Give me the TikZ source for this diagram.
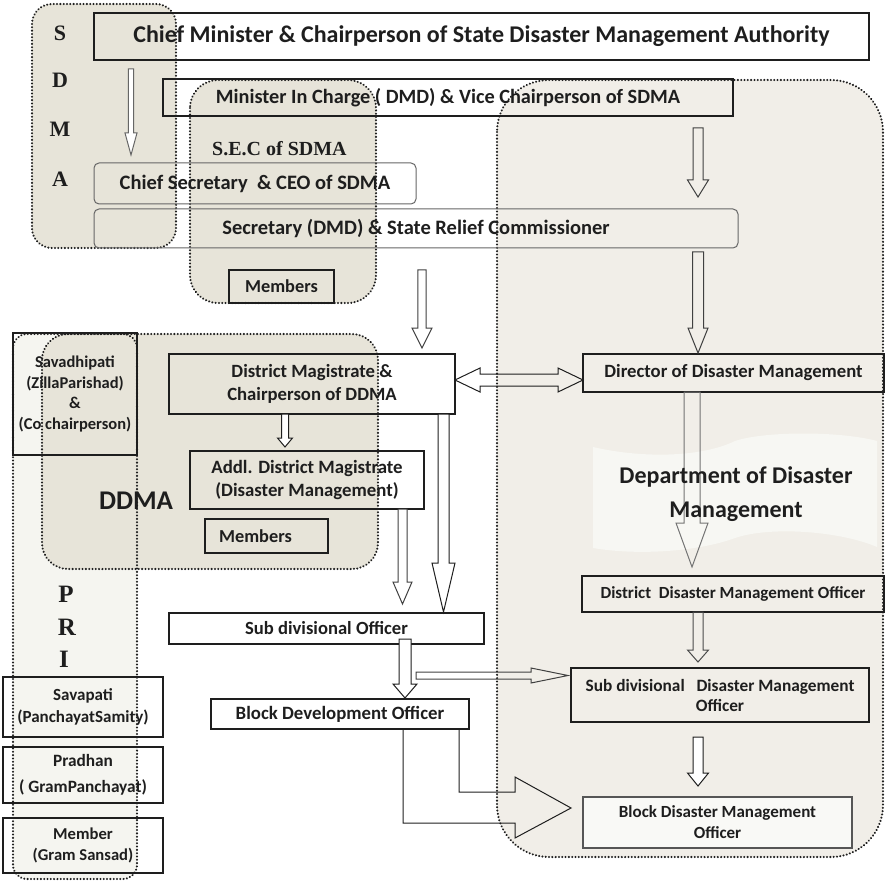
\documentclass[tikz,border=0pt]{standalone}
\usepackage{fontspec}
\setmainfont{Carlito}
\newfontfamily\serifface{Liberation Serif}
\usetikzlibrary{calc}

\definecolor{regionfill}{HTML}{E7E4D9}
\definecolor{deptfill}{HTML}{F1EEE8}
\definecolor{prifill}{HTML}{F5F5F0}
\definecolor{bannerfill}{HTML}{F7F7F3}
\definecolor{lightbox}{HTML}{F9F9F6}
\definecolor{ink}{HTML}{1E1E1E}

\tikzset{
  region/.style={draw=ink, line width=2.3pt, line cap=round, dash pattern=on 0.01pt off 3.3pt},
  heavybox/.style={draw=ink, line width=2.3pt, inner sep=0pt, outer sep=0pt, anchor=north west, align=center, text=ink},
  plainbox/.style={draw=ink, line width=1.4pt, inner sep=0pt, outer sep=0pt, anchor=north west, align=center, text=ink},
  softbox/.style={draw=black!60, line width=1pt, rounded corners=5pt, inner sep=0pt, outer sep=0pt, anchor=north west, align=center, text=ink},
  blockarrow/.style={draw=ink, line width=1pt, line join=miter},
  letter/.style={font=\serifface\bfseries\fontsize{22}{22}\selectfont, inner sep=0pt, anchor=base, text=ink},
  bigletter/.style={font=\serifface\bfseries\fontsize{25}{25}\selectfont, inner sep=0pt, anchor=base, text=ink},
}

% vertical hollow block arrow:
% #1 style, #2 x, #3 from anchor, #4 gap below it, #5 to anchor, #6 gap above it,
% #7 half shaft width, #8 half head width, #9 head length
\newcommand\vblock[9]{%
  \draw[#1] let \p1=(#3), \p2=(#5) in
    (#2pt-#7pt,\y1-#4pt) -- (#2pt+#7pt,\y1-#4pt) -- (#2pt+#7pt,\y2+#6pt+#9pt)
    -- (#2pt+#8pt,\y2+#6pt+#9pt) -- (#2pt,\y2+#6pt) -- (#2pt-#8pt,\y2+#6pt+#9pt)
    -- (#2pt-#7pt,\y2+#6pt+#9pt) -- cycle;}

\begin{document}
\begin{tikzpicture}[x=1pt,y=-1pt]
\useasboundingbox (0,0) rectangle (885,882);

% ---- shaded groupings ----
\fill[prifill, rounded corners=14pt] (13,334) rectangle (137,879);
\fill[regionfill, rounded corners=20pt] (32,4) rectangle (176,248);
\fill[regionfill, rounded corners=28pt] (190,80) rectangle (376,303);
\fill[regionfill, rounded corners=26pt] (42,334) rectangle (378,569);
\fill[deptfill, rounded corners=52pt] (497,80) rectangle (883,857);

% ribbon behind the department title
\fill[bannerfill] (593,447) .. controls (640,458) and (700,458) .. (735,441)
  .. controls (765,431) and (840,431) .. (877,441) -- (877,547)
  .. controls (840,531) and (770,526) .. (735,538)
  .. controls (700,551) and (640,556) .. (593,548) -- cycle;

\draw[region, rounded corners=14pt] (13,334) rectangle (137,879);
\draw[region, rounded corners=20pt] (32,4) rectangle (176,248);
\draw[region, rounded corners=28pt] (190,80) rectangle (376,303);
\draw[region, rounded corners=26pt] (42,334) rectangle (378,569);
\draw[region, rounded corners=52pt] (497,80) rectangle (883,857);

% ---- group labels ----
\node[letter] (lS) at (60,41) {S};
\node[letter] (lD) at (60,88) {D};
\node[letter] (lM) at (60,137) {M};
\node[letter] (lA) at (60,187) {A};
\node[anchor=base west, inner sep=0pt, text=ink, font=\serifface\bfseries\fontsize{20}{20}\selectfont] (sectitle) at (212,156) {S.E.C of SDMA};
\node[anchor=base, inner sep=0pt, text=ink, font=\bfseries\fontsize{27}{27}\selectfont] (ddmatitle) at (136,509) {DDMA};
\node[bigletter] (lP) at (66,602) {P};
\node[bigletter] (lR) at (67,635) {R};
\node[bigletter] (lI) at (64,667) {I};

% ---- state level ----
\node[heavybox, minimum width=775pt, minimum height=47pt, font=\bfseries\fontsize{24}{28}\selectfont] (cm) at (94,13)
  {Chief Minister \& Chairperson of State Disaster Management Authority};
\node[heavybox, minimum width=570pt, minimum height=37pt, font=\bfseries\fontsize{20.3}{24}\selectfont] (mic) at (163,79)
  {Minister In Charge ( DMD) \& Vice Chairperson of SDMA};
\node[softbox, minimum width=322pt, minimum height=41pt, font=\bfseries\fontsize{20.5}{24}\selectfont] (cs) at (94,163)
  {Chief Secretary\ \ \& CEO of SDMA};
\node[softbox, minimum width=644pt, minimum height=39pt, font=\bfseries\fontsize{20.5}{24}\selectfont] (sec) at (94,209)
  {Secretary (DMD) \& State Relief Commissioner};
\node[plainbox, minimum width=105pt, minimum height=33pt, font=\bfseries\fontsize{18.3}{22}\selectfont] (mem1) at (229,270)
  {Members};

% ---- district level ----
\node[heavybox, minimum width=124pt, minimum height=122pt, font=\bfseries\fontsize{16.5}{20.5}\selectfont] (sav) at (13,333)
  {Savadhipati\\(ZillaParishad)\\\&\\(Co chairperson)};
\node[plainbox, minimum width=286pt, minimum height=60pt, font=\bfseries\fontsize{18.7}{23}\selectfont] (dm) at (169,354)
  {District Magistrate \&\\Chairperson of DDMA};
\node[plainbox, minimum width=234pt, minimum height=58pt, font=\bfseries\fontsize{18.8}{23}\selectfont] (adm) at (190,451)
  {Addl. District Magistrate\\(Disaster Management)};
\node[plainbox, minimum width=123pt, minimum height=34pt, font=\bfseries\fontsize{18.3}{22}\selectfont] (mem2) at (205,519)
  {Members\hspace*{22pt}};
\node[plainbox, minimum width=301pt, minimum height=38pt, font=\bfseries\fontsize{18.7}{22}\selectfont] (dir) at (583,354)
  {Director of Disaster Management};
\node[plainbox, minimum width=315pt, minimum height=31pt, font=\bfseries\fontsize{18.6}{22}\selectfont] (sdo) at (169,613)
  {Sub divisional Officer};
\node[plainbox, minimum width=258pt, minimum height=30pt, font=\bfseries\fontsize{18.8}{22}\selectfont] (bdo) at (211,699)
  {Block Development Officer};

% ---- department column ----
\node[plainbox, minimum width=302pt, minimum height=36pt, font=\bfseries\fontsize{17}{21}\selectfont] (ddmo) at (582,576)
  {District\ \ Disaster Management Officer};
\node[plainbox, minimum width=298pt, minimum height=54pt, font=\bfseries\fontsize{17.3}{20}\selectfont] (sddmo) at (571,668)
  {Sub divisional\ \ \ Disaster Management\\Officer};
\node[plainbox, fill=lightbox, draw=ink!75, minimum width=269pt, minimum height=51pt, font=\bfseries\fontsize{17}{21}\selectfont] (bdmo) at (583,797)
  {Block Disaster Management\\Officer};

% ---- panchayat bodies ----
\node[plainbox, minimum width=160pt, minimum height=60pt, font=\bfseries\fontsize{17}{22}\selectfont] (savapati) at (3,677)
  {Savapati\\(PanchayatSamity)};
\node[plainbox, minimum width=160pt, minimum height=56pt, font=\bfseries\fontsize{17.3}{26}\selectfont] (pradhan) at (3,747)
  {Pradhan\\( GramPanchayat)};
\node[plainbox, minimum width=160pt, minimum height=55pt, font=\bfseries\fontsize{16.6}{21}\selectfont] (member) at (3,818)
  {Member\\(Gram Sansad)};

% ---- block arrows ----
\vblock{blockarrow, draw=black!60, fill=white}{131}{cm.south}{9}{cs.north}{8}{2.7}{6}{22}
\vblock{blockarrow, draw=ink!85}{698}{mic.south}{12}{sec.north}{12}{5}{10.5}{17}
\vblock{blockarrow, draw=ink!85}{698}{sec.south}{4}{dir.north}{1}{5.5}{10}{25}
\vblock{blockarrow, draw=ink!85, fill=white}{422}{sec.south}{22}{dm.north}{6}{4.2}{10}{20}
\vblock{blockarrow, fill=white}{285}{dm.south}{0}{adm.north}{4}{3.5}{7.5}{9}
\vblock{blockarrow, draw=black!55}{692}{dir.south}{0}{ddmo.north}{9}{8}{16}{44}
\vblock{blockarrow, draw=ink!80}{698}{ddmo.south}{0}{sddmo.north}{6}{5}{10.5}{12}
\vblock{blockarrow, fill=white}{698}{sddmo.south}{15}{bdmo.north}{11}{5}{10.5}{13}
\vblock{blockarrow, fill=white}{443.5}{dm.south}{0}{sdo.north}{1}{5.5}{11.5}{49}
\vblock{blockarrow, draw=ink!85, fill=white}{402.5}{adm.south}{0}{sdo.north}{9}{4.5}{9.5}{22}
\vblock{blockarrow, fill=white}{405}{sdo.south}{-5}{bdo.north}{1}{6}{12}{14}

% two-way link between the district magistrate and the director
\draw[blockarrow] let \p1=(dm.east), \p2=(dir.west) in
  (\x1,-380pt) -- (\x1+25pt,-368pt) -- (\x1+25pt,-374pt) -- (\x2-25pt,-374pt)
  -- (\x2-25pt,-368pt) -- (\x2,-380pt) -- (\x2-25pt,-392pt) -- (\x2-25pt,-386pt)
  -- (\x1+25pt,-386pt) -- (\x1+25pt,-392pt) -- cycle;

% sub divisional officer to sub divisional disaster management officer
\coordinate (sdolink) at (416,675.5);
\draw[blockarrow, draw=ink!85] let \p1=(sdolink), \p2=(sddmo.west) in
  (\x1,\y1+3.5pt) -- (\x2-40pt,\y1+3.5pt) -- (\x2-40pt,\y1+7.5pt) -- (\x2-3pt,\y1)
  -- (\x2-40pt,\y1-7.5pt) -- (\x2-40pt,\y1-3.5pt) -- (\x1,\y1-3.5pt) -- cycle;

% bent arrow from the block development officer
\draw[blockarrow] let \p1=(bdo.south), \p2=(bdmo.west) in
  (459pt,\y1) -- (459pt,-792pt) -- (515pt,-792pt) -- (515pt,-777pt) -- (\x2-12pt,-808pt)
  -- (515pt,-838pt) -- (515pt,-823pt) -- (403pt,-823pt) -- (403pt,\y1);

% department title over its ribbon
\node[align=center, inner sep=0pt, text=ink, font=\bfseries\fontsize{24}{34}\selectfont] (depttitle) at (736,494)
  {Department of Disaster\\Management};

\end{tikzpicture}
\end{document}
